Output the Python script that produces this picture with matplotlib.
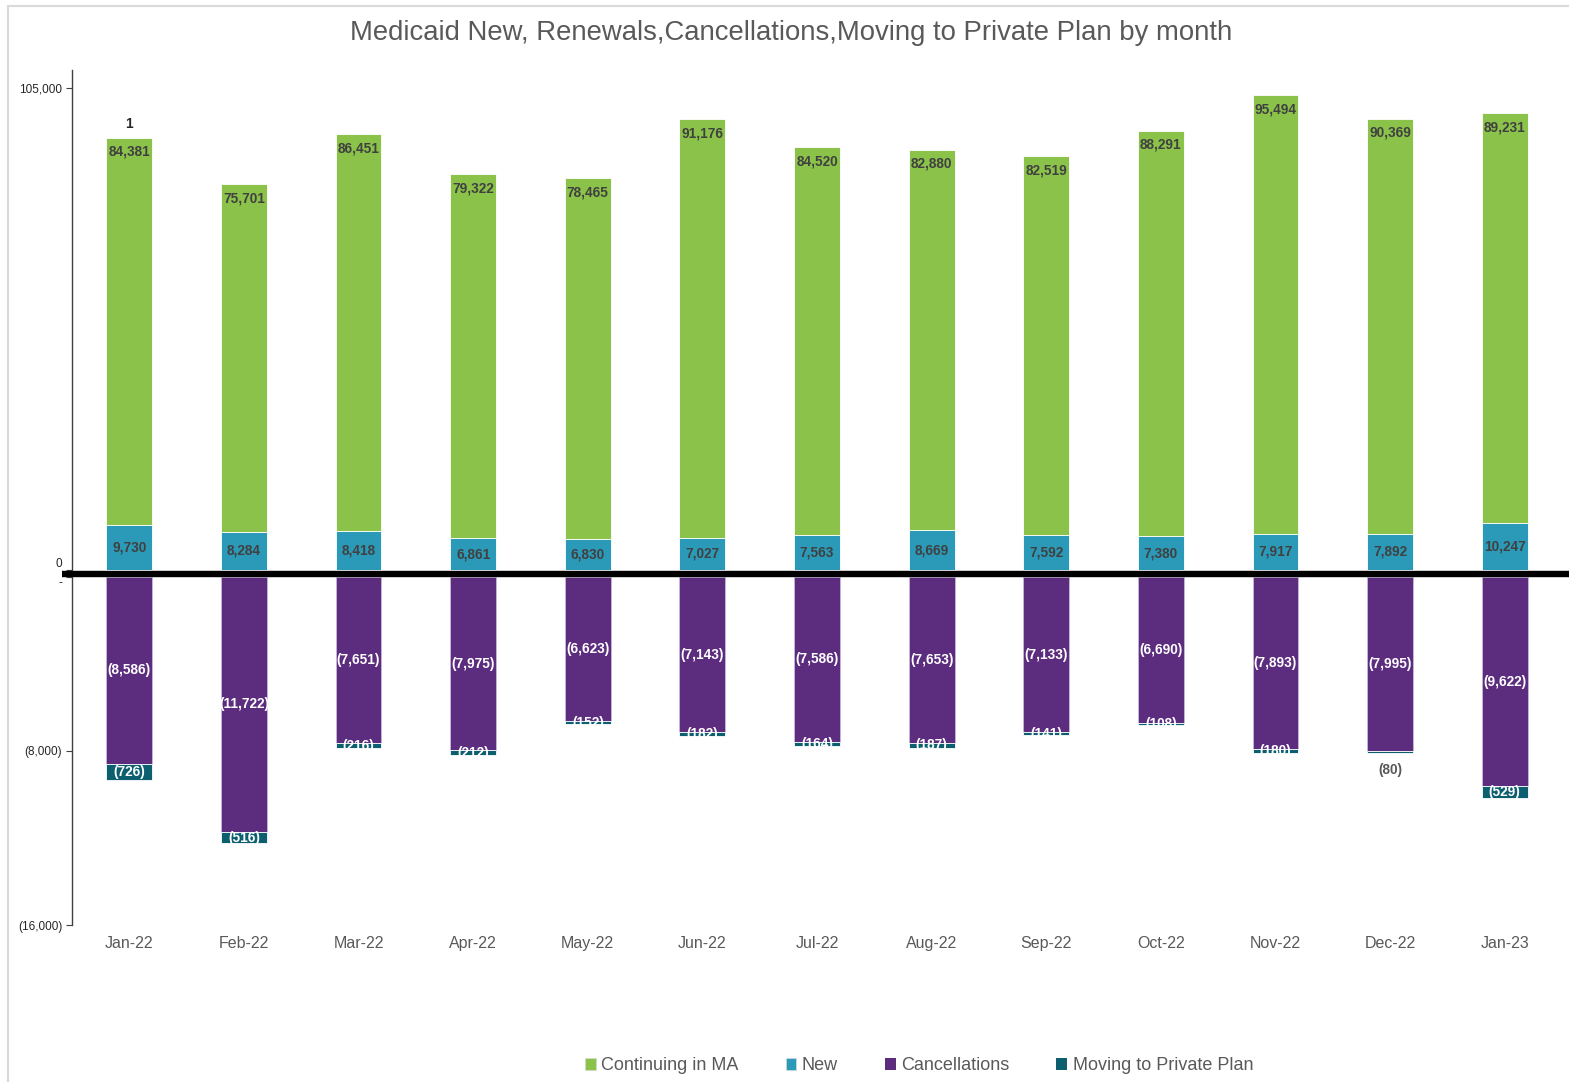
import matplotlib
matplotlib.use("Agg")
import matplotlib.pyplot as plt
from matplotlib.patches import Rectangle, Patch
from matplotlib.lines import Line2D
import numpy as np

plt.rcParams['font.family'] = ['Liberation Sans', 'DejaVu Sans']

months = ['Jan-22', 'Feb-22', 'Mar-22', 'Apr-22', 'May-22', 'Jun-22', 'Jul-22',
          'Aug-22', 'Sep-22', 'Oct-22', 'Nov-22', 'Dec-22', 'Jan-23']
continuing = [84381, 75701, 86451, 79322, 78465, 91176, 84520, 82880, 82519, 88291, 95494, 90369, 89231]
new = [9730, 8284, 8418, 6861, 6830, 7027, 7563, 8669, 7592, 7380, 7917, 7892, 10247]
cancellations = [8586, 11722, 7651, 7975, 6623, 7143, 7586, 7653, 7133, 6690, 7893, 7995, 9622]
moving_private = [726, 516, 216, 212, 152, 182, 164, 187, 141, 108, 180, 80, 529]

C_GREEN = '#8BC34A'
C_BLUE = '#2B9AB8'
C_PURPLE = '#5C2C7E'
C_TEAL = '#0B5F6E'
TXT_DARK = '#404040'
TXT_GRAY = '#595959'

W, H = 1569, 1082
fig = plt.figure(figsize=(W / 100, H / 100), dpi=100)


def fx(px):
    return px / W


def fy(py):
    return 1 - py / H


# chart area border
fig.add_artist(Rectangle((fx(8), fy(1100)), fx(1600), fy(6) - fy(1100),
                         transform=fig.transFigure, fill=False,
                         edgecolor='#d9d9d9', linewidth=1.5))

left, right = 72, 1562
ax_top = fig.add_axes([fx(left), fy(570), fx(right - left), fy(70) - fy(570)])
ax_bot = fig.add_axes([fx(left), fy(925), fx(right - left), fy(577) - fy(925)])

x = np.arange(len(months))
bw = 0.4

# positive part
ax_top.bar(x, new, bw, color=C_BLUE, edgecolor='white', linewidth=0.6)
ax_top.bar(x, continuing, bw, bottom=new, color=C_GREEN, edgecolor='white', linewidth=0.6)
ax_top.set_ylim(0, 108900)
ax_top.set_xlim(-0.5, len(months) - 0.5)
ax_top.set_yticks([0, 105000])
ax_top.set_yticklabels(['0', '105,000'], fontsize=8.5, color='#262626')
ax_top.set_xticks([])

# negative part
neg_c = -np.array(cancellations)
neg_m = -np.array(moving_private)
ax_bot.bar(x, neg_c, bw, color=C_PURPLE, edgecolor='#c8b8d8', linewidth=0.6)
ax_bot.bar(x, neg_m, bw, bottom=neg_c, color=C_TEAL, edgecolor='white', linewidth=0.6)
ax_bot.set_ylim(-16000, 0)
ax_bot.set_xlim(-0.5, len(months) - 0.5)
ax_bot.set_yticks([0, -8000, -16000])
ax_bot.set_yticklabels(['-', '(8,000)', '(16,000)'], fontsize=8.5, color='#262626')
ax_bot.set_xticks(x)
ax_bot.set_xticklabels(months, fontsize=11.5, color=TXT_GRAY)
ax_bot.tick_params(axis='x', length=0, pad=8)

for ax in (ax_top, ax_bot):
    for s in ('top', 'right', 'bottom'):
        ax.spines[s].set_visible(False)
    ax.spines['left'].set_color('#404040')
    ax.spines['left'].set_linewidth(1.0)
    ax.tick_params(axis='y', length=4, width=0.8, color='#404040', pad=3)

# keep the two zero labels apart around the break
ax_top.get_yticklabels()[0].set_verticalalignment('bottom')
ax_bot.get_yticklabels()[0].set_verticalalignment('top')

# data labels
for i in x:
    top = new[i] + continuing[i]
    ax_top.annotate(f'{continuing[i]:,}', (i, top), xytext=(0, -14), textcoords='offset pixels',
                    ha='center', va='center', fontsize=9.8, fontweight='bold', color=TXT_DARK)
    ax_top.text(i, new[i] / 2, f'{new[i]:,}', ha='center', va='center',
                fontsize=9.8, fontweight='bold', color=TXT_DARK)
    ax_bot.text(i, neg_c[i] / 2, f'({cancellations[i]:,})', ha='center', va='center',
                fontsize=9.8, fontweight='bold', color='white')
    if moving_private[i] < 100:
        ax_bot.annotate(f'({moving_private[i]:,})', (i, neg_c[i] + neg_m[i]), xytext=(0, -17),
                        textcoords='offset pixels', ha='center', va='center',
                        fontsize=9.8, fontweight='bold', color=TXT_GRAY)
    else:
        ax_bot.text(i, neg_c[i] + neg_m[i] / 2, f'({moving_private[i]:,})', ha='center',
                    va='center', fontsize=9.8, fontweight='bold', color='white')

# stray label above first bar
ax_top.annotate('1', (0, new[0] + continuing[0]), xytext=(0, 14), textcoords='offset pixels',
                ha='center', va='center', fontsize=9.8, fontweight='bold', color='#262626')

# thick zero line
fig.add_artist(Line2D([fx(62), 1.0], [fy(573.5), fy(573.5)], transform=fig.transFigure,
                      color='black', linewidth=4.6, solid_capstyle='butt'))

fig.text(fx(791), fy(33), 'Medicaid New, Renewals,Cancellations,Moving to Private Plan by month',
         ha='center', va='center', fontsize=19.8, color=TXT_GRAY)

handles = [Patch(facecolor=C_GREEN, edgecolor='#d9d9d9', linewidth=0.5, label='Continuing in MA'),
           Patch(facecolor=C_BLUE, edgecolor='#d9d9d9', linewidth=0.5, label='New'),
           Patch(facecolor=C_PURPLE, label='Cancellations'),
           Patch(facecolor=C_TEAL, label='Moving to Private Plan')]
fig.legend(handles=handles, loc='center', bbox_to_anchor=(fx(919), fy(1066)), ncol=4,
           frameon=False, fontsize=13, labelcolor=TXT_GRAY, handlelength=0.6, handleheight=0.6,
           handletextpad=0.3, columnspacing=2.6)

fig.savefig('out.png', dpi=100)
